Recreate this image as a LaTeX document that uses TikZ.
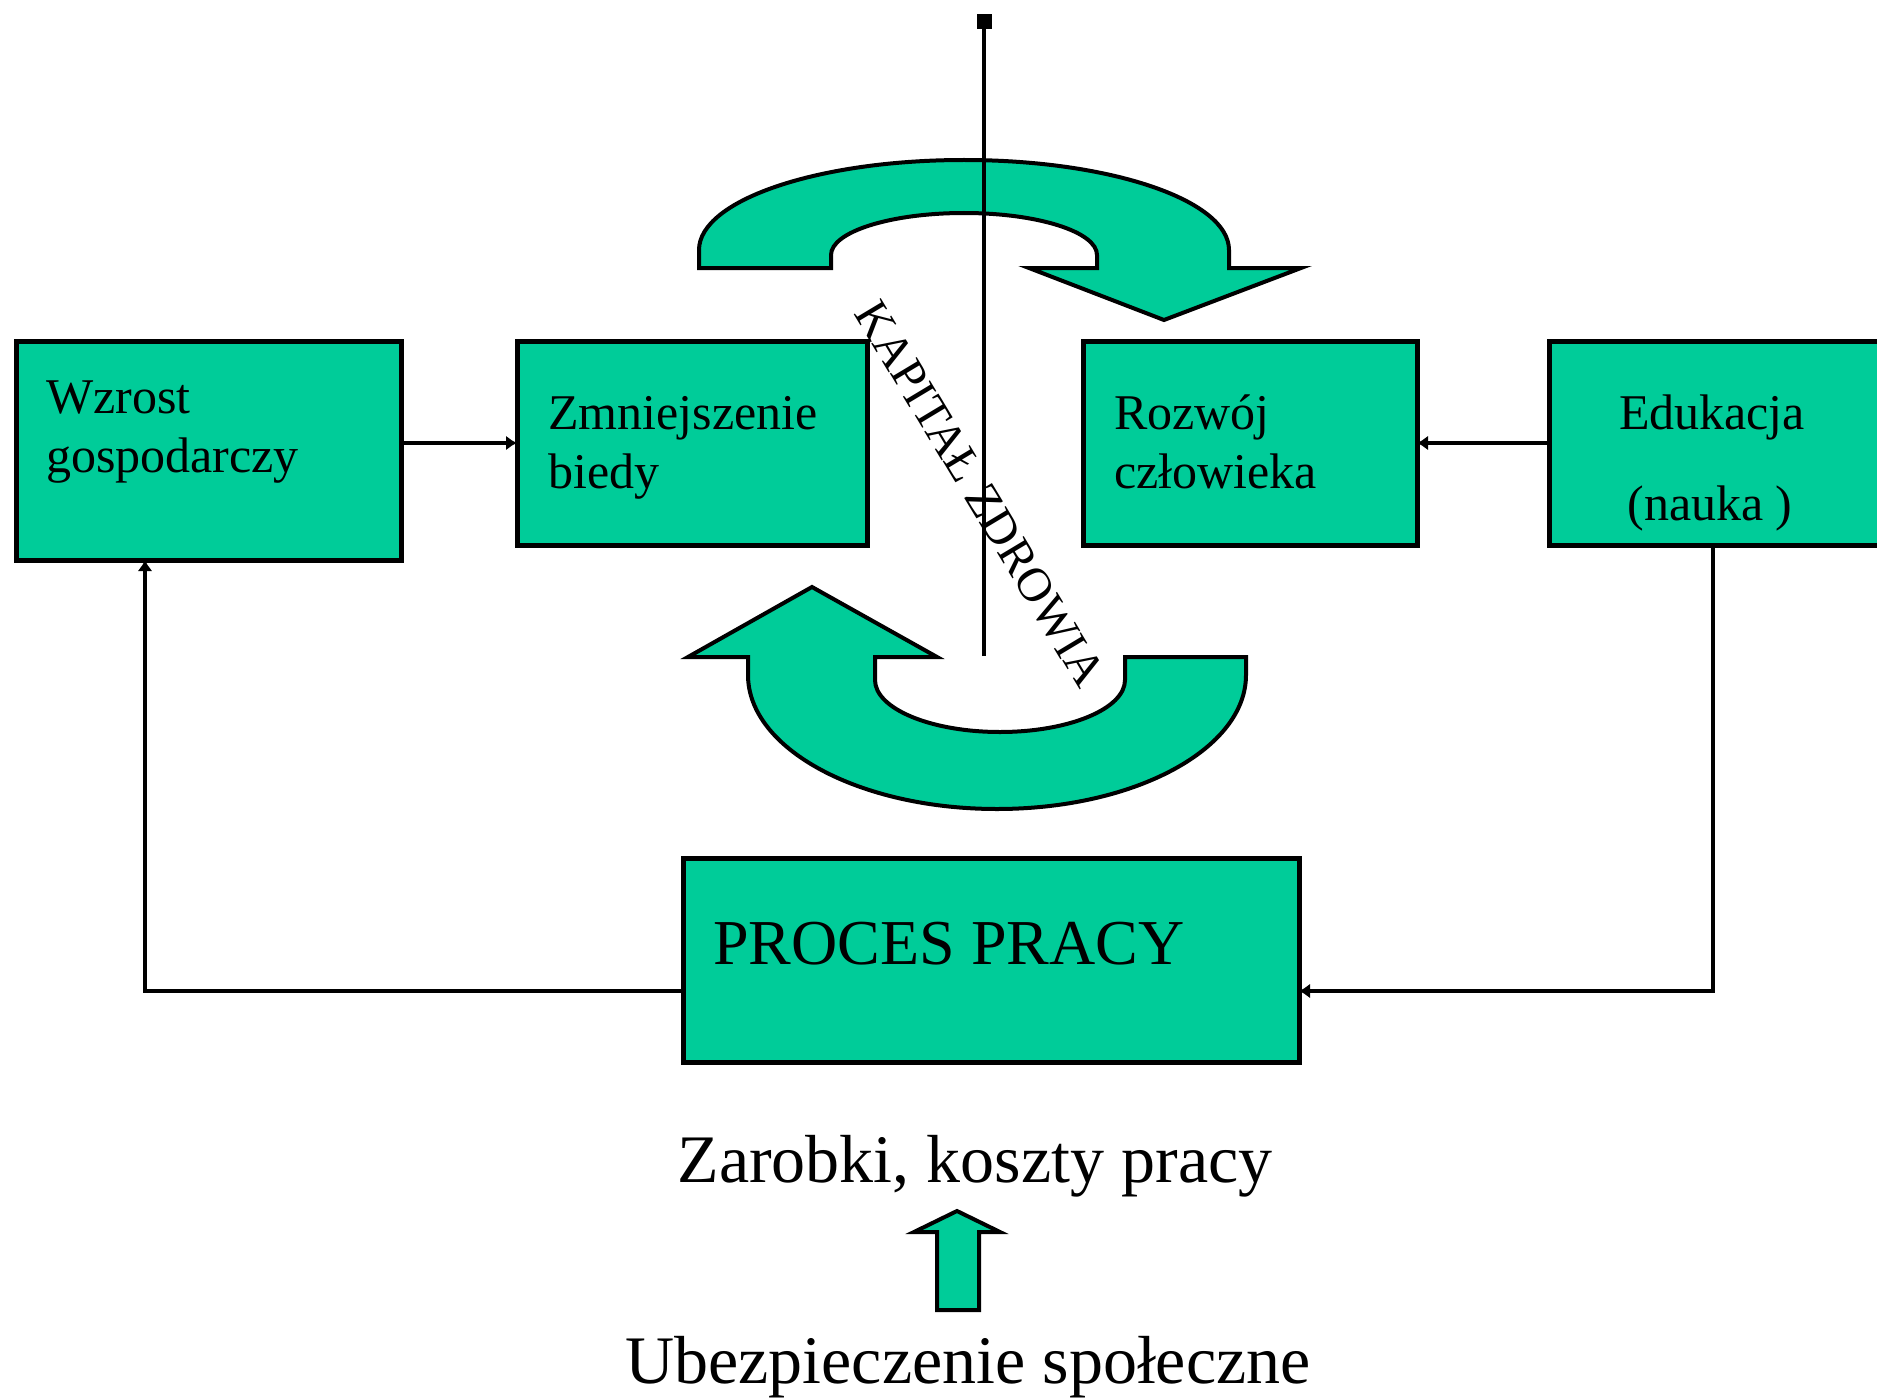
\documentclass[tikz,border=0pt]{standalone}
\usepackage{fontspec}
\setmainfont{Liberation Serif}
\usetikzlibrary{arrows.meta}
\definecolor{boxgreen}{RGB}{0,204,153}
\begin{document}
\begin{tikzpicture}[x=1pt,y=-1pt,
  box/.style={draw=black,line width=5pt,fill=boxgreen,inner sep=0pt,outer sep=0pt},
  conn/.style={line width=4.5pt,-{Latex[length=11pt,width=15pt]}},
  bigarrow/.style={draw=black,line width=4pt,fill=boxgreen,line join=miter},
  lbl/.style={inner sep=0pt,anchor=base west,font=\fontsize{50}{60}\selectfont},
  lblc/.style={inner sep=0pt,anchor=base,font=\fontsize{50}{60}\selectfont},
]
\useasboundingbox (0,0) rectangle (1877,1399);
\fill[white] (0,0) rectangle (1877,1399);

% boxes
\node[box,minimum width=385pt,minimum height=219pt] (b1) at (208.5,450.5) {};
\node[box,minimum width=350pt,minimum height=204pt] (b2) at (692,443) {};
\node[box,minimum width=334pt,minimum height=204pt] (b3) at (1250,443) {};
\node[box,minimum width=338pt,minimum height=204pt] (b4) at (1718,443) {};
\node[box,minimum width=616pt,minimum height=204pt] (bp) at (991,960) {};

% box texts
\node[lbl] (t1a) at (46,413) {Wzrost};
\node[lbl] (t1b) at (46,472) {gospodarczy};
\node[lbl] (t2a) at (548,429) {Zmniejszenie};
\node[lbl] (t2b) at (548,488) {biedy};
\node[lbl] (t3a) at (1114,429) {Rozwój};
\node[lbl] (t3b) at (1114,488) {człowieka};
\node[lblc] (t4a) at (1712,429) {Edukacja};
\node[lblc] (t4b) at (1710,520) {(nauka )};
\node[inner sep=0pt,anchor=base west,font=\fontsize{64}{64}\selectfont] (tp) at (713,964) {PROCES PRACY};

% connectors
\draw[conn] (b1.east |- b2.west) -- (b2.west);
\draw[conn] (b4.west) -- (b3.east);
\draw[conn] (b4.south -| 1713,0) |- (bp.east |- 0,991);
\draw[conn] (bp.west |- 0,991) -| (b1.south -| 145,0);

% top curved arrow
\draw[bigarrow] (699,268) -- (699,250)
  arc[start angle=180,end angle=0,x radius=265pt,y radius=90pt]
  -- (1229,268) -- (1301,268) -- (1164,320) -- (1029,268) -- (1097,268) -- (1097,255)
  arc[start angle=0,end angle=180,x radius=133pt,y radius=42pt] -- (831,268) -- cycle;

% bottom curved arrow
\draw[bigarrow] (1246,657) -- (1246,675)
  arc[start angle=0,end angle=-180,x radius=249pt,y radius=134pt]
  -- (748,657) -- (688,657) -- (812,587) -- (937,657) -- (875,657) -- (875,680)
  arc[start angle=180,end angle=360,x radius=125pt,y radius=52pt] -- (1125,657) -- cycle;

% vertical axis
\coordinate (vb) at (984,656);
\coordinate (vt) at (984,14);
\draw[line width=4.5pt,-{Square[length=15pt,width=15pt]}] (vb) -- (vt);

% rotated label
\node[rotate=-59,inner sep=0pt,font=\fontsize{48}{48}\selectfont] (kz) at (980,494) {KAPITAŁ ZDROWIA};

% bottom texts and small arrow
\node[inner sep=0pt,anchor=base,font=\fontsize{68}{68}\selectfont] (zar) at (975,1182) {Zarobki, koszty pracy};
\node[inner sep=0pt,anchor=base,font=\fontsize{68}{68}\selectfont] (ube) at (968,1383) {Ubezpieczenie społeczne};
\draw[bigarrow] (937,1310) -- (937,1232) -- (914,1232) -- (957,1211) -- (1000,1232) -- (979,1232) -- (979,1310) -- cycle;
\end{tikzpicture}
\end{document}
